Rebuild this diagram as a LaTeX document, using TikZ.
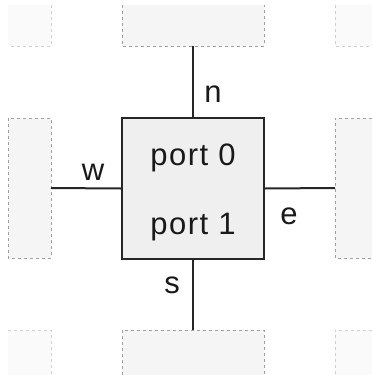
\documentclass[tikz,border=0pt]{standalone}
\usepackage{fontspec}
\setmainfont{Liberation Sans}[LetterSpace=5]
\begin{document}
\begin{tikzpicture}[x=1pt,y=-1pt,
  edgebox/.style={rectangle,fill=edgefill,draw=none,inner sep=0pt,outer sep=0pt},
  cornerbox/.style={rectangle,fill=cornerfill,draw=none,inner sep=0pt,outer sep=0pt},
  edgeline/.style={draw=edgedash,dash pattern=on 3pt off 3pt,line width=0.8pt},
  cornerline/.style={draw=cornerdash,dash pattern=on 3pt off 3pt,line width=0.8pt},
  mainbox/.style={rectangle,fill=mainfill,draw=black!85,line width=2pt,minimum width=142pt,minimum height=141pt,inner sep=0pt},
  conn/.style={draw=black!85,line width=2pt},
  lbl/.style={font=\fontsize{31}{33}\selectfont,text=black!90,inner sep=0pt}
]
\definecolor{edgefill}{HTML}{F5F5F5}
\definecolor{cornerfill}{HTML}{FAFAFA}
\definecolor{edgedash}{HTML}{A0A0A0}
\definecolor{cornerdash}{HTML}{D0D0D0}
\definecolor{mainfill}{HTML}{EFEFEF}
\useasboundingbox (0,0) rectangle (372,375);
\fill[white] (0,0) rectangle (372,375);
% corner boxes
\node[cornerbox,minimum width=43pt,minimum height=41pt,anchor=north west] (tl) at (8,5) {};
\node[cornerbox,minimum width=37pt,minimum height=41pt,anchor=north west] (tr) at (335,5) {};
\node[cornerbox,minimum width=43pt,minimum height=45pt,anchor=north west] (bl) at (8,330) {};
\node[cornerbox,minimum width=37pt,minimum height=45pt,anchor=north west] (br) at (335,330) {};
\draw[cornerline] (tl.north east) -- (tl.south east) -- (tl.south west);
\draw[cornerline] (tr.north west) -- (tr.south west) -- (tr.south east);
\draw[cornerline] (bl.north west) -- (bl.north east) -- (bl.south east);
\draw[cornerline] (br.north east) -- (br.north west) -- (br.south west);
% edge boxes
\node[edgebox,minimum width=142pt,minimum height=41pt,anchor=north west] (tc) at (122,5) {};
\node[edgebox,minimum width=142pt,minimum height=45pt,anchor=north west] (bc) at (122,330) {};
\node[edgebox,minimum width=43pt,minimum height=140pt,anchor=north west] (ml) at (8,118) {};
\node[edgebox,minimum width=37pt,minimum height=140pt,anchor=north west] (mr) at (335,118) {};
\draw[edgeline] (tc.north west) -- (tc.south west) -- (tc.south east) -- (tc.north east);
\draw[edgeline] (bc.south west) -- (bc.north west) -- (bc.north east) -- (bc.south east);
\draw[edgeline] (ml.north west) rectangle (ml.south east);
\draw[edgeline] (mr.north east) -- (mr.north west) -- (mr.south west) -- (mr.south east);
% main
\node[mainbox] (main) at (193,188.5) {};
\node[lbl] (p0) at (193,158) {port 0};
\node[lbl] (p1) at (193,227) {port 1};
% connectors
\draw[conn] (main.north) -- (tc.south);
\draw[conn] (main.south) -- (bc.north);
\draw[conn] (main.west) -- (ml.east);
\draw[conn] (main.east) -- (mr.west);
% labels
\node[lbl] (ln) at (213,94) {n};
\node[lbl] (lw) at (93,172) {w};
\node[lbl] (le) at (289,216) {e};
\node[lbl] (ls) at (172,285) {s};
\end{tikzpicture}
\end{document}
